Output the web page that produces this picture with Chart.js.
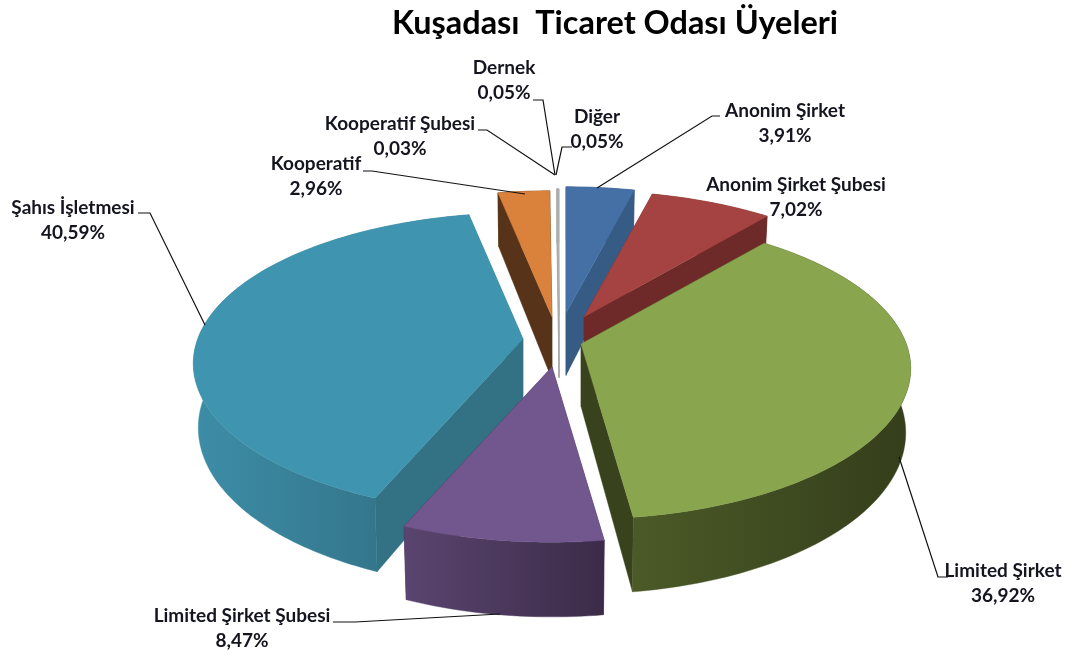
<!DOCTYPE html>
<html>
<head>
<meta charset="utf-8">
<title>Kuşadası Ticaret Odası Üyeleri</title>
<script src="https://cdn.jsdelivr.net/npm/chart.js@4"></script>
<style>
  html, body { margin: 0; padding: 0; background: #fff; }
  #wrap { width: 1075px; height: 654px; }
</style>
</head>
<body>
<div id="wrap"><canvas id="pie" width="1075" height="654"></canvas></div>
<script>
const CHART_TITLE = 'Kuşadası  Ticaret Odası Üyeleri';
const memberTypes = ['Anonim Şirket', 'Anonim Şirket Şubesi', 'Limited Şirket', 'Limited Şirket Şubesi',
    'Şahıs İşletmesi', 'Kooperatif', 'Kooperatif Şubesi', 'Dernek', 'Diğer'];
const memberShare = [3.91, 7.02, 36.92, 8.47, 40.59, 2.96, 0.03, 0.05, 0.05];

const topColors  = ['#4470A5', '#A44341', '#89A54E', '#71578E', '#3F95AF', '#DA813B', '#b0b0b0', '#b0b0b0', '#b0b0b0'];
const cutColors  = ['#365B85', '#6E2A28', '#38421D', '#3C2B48', '#327284', '#57331A', '#a8a8a8', '#a8a8a8', '#a8a8a8'];
const wallLeft   = ['#365B85', '#6E2A28', '#4B5A27', '#5A4570', '#3D8DA7', '#57331A', '#a8a8a8', '#a8a8a8', '#a8a8a8'];
const wallRight  = ['#365B85', '#6E2A28', '#343E1B', '#3C2B48', '#2F6B7F', '#57331A', '#a8a8a8', '#a8a8a8', '#a8a8a8'];

// how far each slice is pulled out of the pie (px, screen)
const sliceShift = [[11, -26], [29, -22], [26, 5], [-3, 28], [-32, 0], [-3, -22], [4, -24], [4, -24], [4, -24]];

// label centre (x, first line y), then the leader line
const labelSpots = [
    { x: 785, y: 111, line: [[720, 116], [712, 116], [597, 188]] },
    { x: 796, y: 185, line: null },
    { x: 1003, y: 571, line: [[948, 577], [938, 577], [899, 457]] },
    { x: 242, y: 616, line: [[333, 622], [355, 622], [500, 614]] },
    { x: 73, y: 208, line: [[138, 213], [150, 213], [205, 325]] },
    { x: 316, y: 164, line: [[363, 171], [372, 171], [525, 194]] },
    { x: 400, y: 124, line: [[478, 130], [487, 130], [555, 175]] },
    { x: 504, y: 68, line: [[533, 100], [543, 100], [555, 175]] },
    { x: 597, y: 117, line: [[572, 147], [562, 147], [556, 175]] }
];

const TILT = 0.451;      // vertical squash of the disc
const PERSP = 0.163;     // near side bigger than far side
const DEPTH = 62.5;      // height of the pie wall
const INSET = 0.015;     // wall narrows towards the bottom

function project(geo, shift, angle, radiusPart, z) {
    const u = Math.cos(angle) * radiusPart;
    const v = Math.sin(angle) * radiusPart;
    const w = 1 - PERSP * v;
    return [
        geo.cx + shift[0] + geo.rx * u * (1 - INSET * z) / w,
        geo.cy + shift[1] + (geo.rx * TILT * v + DEPTH * z) / w
    ];
}

function fillPoly(ctx, pts, fill) {
    ctx.beginPath();
    pts.forEach((p, i) => i ? ctx.lineTo(p[0], p[1]) : ctx.moveTo(p[0], p[1]));
    ctx.closePath();
    ctx.fillStyle = fill;
    ctx.strokeStyle = fill;
    ctx.lineWidth = 0.4;
    ctx.fill();
    ctx.stroke();
}

function rimPoints(geo, shift, a0, a1, z) {
    const steps = Math.max(1, Math.ceil((a1 - a0) / 0.02));
    const pts = [];
    for (let i = 0; i <= steps; i++) {
        pts.push(project(geo, shift, a0 + (a1 - a0) * i / steps, 1, z));
    }
    return pts;
}

function drawSlice(ctx, geo, arc, i) {
    const shift = sliceShift[i];
    const a0 = arc.startAngle, a1 = arc.endAngle;
    const apexTop = project(geo, shift, a0, 0, 0);
    const apexBot = project(geo, shift, a0, 0, 1);

    // cut faces
    [a0, a1].forEach(a => {
        fillPoly(ctx, [project(geo, shift, a, 1, 0), apexTop, apexBot, project(geo, shift, a, 1, 1)], cutColors[i]);
    });

    // outer wall
    const rimTop = rimPoints(geo, shift, a0, a1, 0);
    const rimBot = rimPoints(geo, shift, a0, a1, 1);
    const xs = rimTop.map(p => p[0]);
    const grad = ctx.createLinearGradient(Math.min(...xs), 0, Math.max(...xs) + 0.01, 0);
    grad.addColorStop(0, wallLeft[i]);
    grad.addColorStop(1, wallRight[i]);
    fillPoly(ctx, rimTop.concat(rimBot.reverse()), grad);

    // top face
    fillPoly(ctx, [apexTop].concat(rimTop), topColors[i]);
}

const pie3d = {
    id: 'pie3d',
    beforeDatasetsDraw(chart) {
        const ctx = chart.ctx;
        const arcs = chart.getDatasetMeta(0).data;
        const geo = { cx: arcs[0].x - 60, cy: arcs[0].y - 15, rx: arcs[0].outerRadius * 1.084 };
        const order = arcs.map((a, i) => i).sort((p, q) => {
            const mid = k => (arcs[k].startAngle + arcs[k].endAngle) / 2;
            return Math.sin(mid(p)) - Math.sin(mid(q));
        });
        ctx.save();
        order.forEach(i => drawSlice(ctx, geo, arcs[i], i));
        ctx.restore();
        return false; // the flat pie is not drawn
    },
    afterDraw(chart) {
        const ctx = chart.ctx;
        ctx.save();
        labelSpots.forEach(s => {
            if (!s.line) return;
            ctx.beginPath();
            s.line.forEach((p, i) => i ? ctx.lineTo(p[0], p[1]) : ctx.moveTo(p[0], p[1]));
            ctx.strokeStyle = '#111';
            ctx.lineWidth = 1.2;
            ctx.stroke();
        });
        ctx.font = 'bold 19px Lato';
        ctx.fillStyle = '#15151f';
        ctx.textAlign = 'center';
        ctx.textBaseline = 'middle';
        labelSpots.forEach((s, i) => {
            ctx.fillText(memberTypes[i], s.x, s.y);
            ctx.fillText(memberShare[i].toFixed(2).replace('.', ',') + '%', s.x, s.y + 25);
        });
        ctx.restore();
    }
};

new Chart(document.getElementById('pie'), {
    type: 'pie',
    data: {
        labels: memberTypes,
        datasets: [{ data: memberShare, backgroundColor: topColors, borderWidth: 0 }]
    },
    options: {
        responsive: false,
        animation: false,
        layout: { padding: { left: 155 } },
        plugins: {
            legend: { display: false },
            tooltip: { enabled: false },
            title: {
                display: true,
                fullSize: false,
                text: CHART_TITLE,
                color: '#000',
                font: { family: 'Lato', size: 32.4, weight: 'bold' },
                padding: { top: 4, bottom: 11 }
            }
        }
    },
    plugins: [pie3d]
});
</script>
</body>
</html>
